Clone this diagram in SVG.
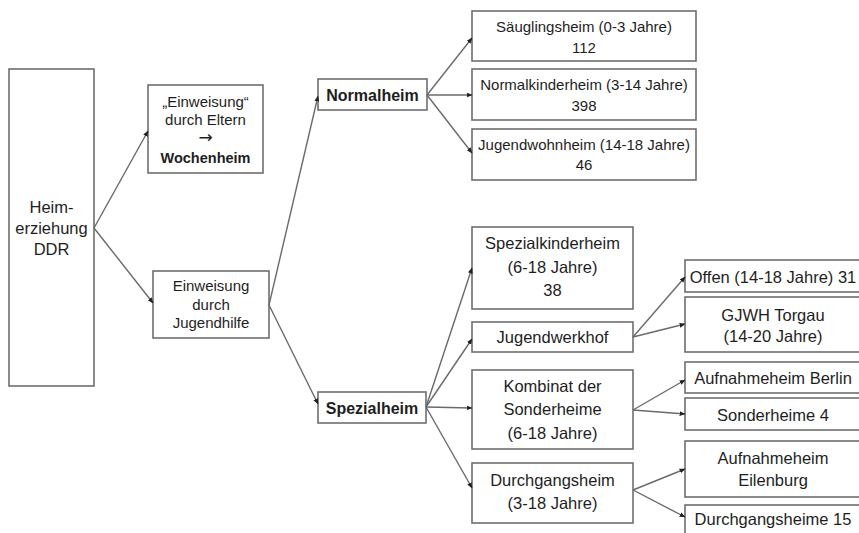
<svg xmlns="http://www.w3.org/2000/svg" width="859" height="533" viewBox="0 0 859 533">
<style>
  .box { fill: #ffffff; stroke: #6e6e6e; stroke-width: 1.6; }
  .t { font-family: "Liberation Sans", Arial, sans-serif; fill: #1e1e1e; text-anchor: middle; }
  .s15 { font-size: 15px; }
  .s16 { font-size: 16.5px; }
  .b { font-weight: bold; }
  .conn line { stroke: #6a6a6a; stroke-width: 1.4; marker-end: url(#ah); }
</style>
<defs>
  <marker id="ah" viewBox="0 0 10 10" refX="9" refY="5" markerWidth="6" markerHeight="6" markerUnits="userSpaceOnUse" orient="auto">
    <path d="M0,1 L10,5 L0,9 z" fill="#222"/>
  </marker>
</defs>
<rect width="859" height="533" fill="#ffffff"/>

<g id="heim">
  <rect class="box" x="9" y="69" width="85" height="317"/>
  <text class="t s16" x="51.5" y="213">Heim-</text>
  <text class="t s16" x="51.5" y="234">erziehung</text>
  <text class="t s16" x="51.5" y="255">DDR</text>
</g>

<g id="eltern">
  <rect class="box" x="148" y="85" width="115" height="88"/>
  <text class="t s15" x="205.5" y="107">„Einweisung“</text>
  <text class="t s15" x="205.5" y="125">durch Eltern</text>
  <text class="t" style="font-family:'DejaVu Sans',sans-serif;font-size:17px" x="205.5" y="143">→</text>
  <text class="t b" style="font-size:14.5px" x="205.5" y="163">Wochenheim</text>
</g>

<g id="jugendhilfe">
  <rect class="box" x="153" y="271" width="116" height="67"/>
  <text class="t s15" x="211" y="291">Einweisung</text>
  <text class="t s15" x="211" y="310">durch</text>
  <text class="t s15" x="211" y="328">Jugendhilfe</text>
</g>

<g id="normalheim">
  <rect class="box" x="318" y="79" width="109" height="31"/>
  <text class="t b" style="font-size:16px" x="372.5" y="100.5">Normalheim</text>
</g>

<g id="spezialheim">
  <rect class="box" x="318" y="392" width="108" height="31"/>
  <text class="t b" style="font-size:16px" x="372" y="413.5">Spezialheim</text>
</g>

<g id="saeuglingsheim">
  <rect class="box" x="472" y="11" width="224" height="50"/>
  <text class="t s15" x="584" y="32">Säuglingsheim (0-3 Jahre)</text>
  <text class="t s15" x="584" y="53">112</text>
</g>

<g id="normalkinderheim">
  <rect class="box" x="472" y="69" width="224" height="51"/>
  <text class="t s15" x="584" y="90">Normalkinderheim (3-14 Jahre)</text>
  <text class="t s15" x="584" y="111">398</text>
</g>

<g id="jugendwohnheim">
  <rect class="box" x="472" y="129" width="224" height="51"/>
  <text class="t s15" x="584" y="150">Jugendwohnheim (14-18 Jahre)</text>
  <text class="t s15" x="584" y="170">46</text>
</g>

<g id="spezialkinderheim">
  <rect class="box" x="472" y="227" width="161" height="82"/>
  <text class="t s16" x="552.5" y="249">Spezialkinderheim</text>
  <text class="t s16" x="552.5" y="273">(6-18 Jahre)</text>
  <text class="t s16" x="552.5" y="296">38</text>
</g>

<g id="jugendwerkhof">
  <rect class="box" x="472" y="322" width="161" height="30"/>
  <text class="t s16" x="552.5" y="343">Jugendwerkhof</text>
</g>

<g id="kombinat">
  <rect class="box" x="472" y="370" width="161" height="79"/>
  <text class="t s16" x="552.5" y="392">Kombinat der</text>
  <text class="t s16" x="552.5" y="415">Sonderheime</text>
  <text class="t s16" x="552.5" y="439">(6-18 Jahre)</text>
</g>

<g id="durchgangsheim">
  <rect class="box" x="472" y="463" width="161" height="60"/>
  <text class="t s16" x="552.5" y="486">Durchgangsheim</text>
  <text class="t s16" x="552.5" y="509">(3-18 Jahre)</text>
</g>

<g id="offen">
  <rect class="box" x="685" y="260" width="180" height="32"/>
  <text class="t s16" x="773" y="283">Offen (14-18 Jahre) 31</text>
</g>

<g id="torgau">
  <rect class="box" x="685" y="297" width="180" height="55"/>
  <text class="t s16" x="773" y="321">GJWH Torgau</text>
  <text class="t s16" x="773" y="342">(14-20 Jahre)</text>
</g>

<g id="berlin">
  <rect class="box" x="685" y="362" width="180" height="31"/>
  <text class="t s16" x="773" y="384">Aufnahmeheim Berlin</text>
</g>

<g id="sonderheime">
  <rect class="box" x="685" y="398" width="180" height="32"/>
  <text class="t s16" x="773" y="421">Sonderheime 4</text>
</g>

<g id="eilenburg">
  <rect class="box" x="685" y="441" width="180" height="56"/>
  <text class="t s16" x="773" y="464">Aufnahmeheim</text>
  <text class="t s16" x="773" y="486">Eilenburg</text>
</g>

<g id="durchgangsheime">
  <rect class="box" x="685" y="505" width="180" height="40"/>
  <text class="t s16" x="773" y="525">Durchgangsheime 15</text>
</g>

<g id="connectors" class="conn">
  <line x1="94" y1="228" x2="148" y2="131"/>
  <line x1="94" y1="228" x2="153" y2="303"/>
  <line x1="269" y1="305" x2="318" y2="96"/>
  <line x1="269" y1="305" x2="318" y2="404"/>
  <line x1="427" y1="95" x2="472" y2="38"/>
  <line x1="427" y1="95" x2="472" y2="95"/>
  <line x1="427" y1="95" x2="472" y2="153"/>
  <line x1="426" y1="407" x2="472" y2="268"/>
  <line x1="426" y1="407" x2="472" y2="339"/>
  <line x1="426" y1="407" x2="472" y2="408"/>
  <line x1="426" y1="407" x2="472" y2="488"/>
  <line x1="633" y1="337" x2="685" y2="277"/>
  <line x1="633" y1="337" x2="685" y2="324"/>
  <line x1="633" y1="410" x2="685" y2="380"/>
  <line x1="633" y1="410" x2="685" y2="414"/>
  <line x1="633" y1="490" x2="685" y2="469"/>
  <line x1="633" y1="490" x2="685" y2="517"/>
</g>
</svg>
